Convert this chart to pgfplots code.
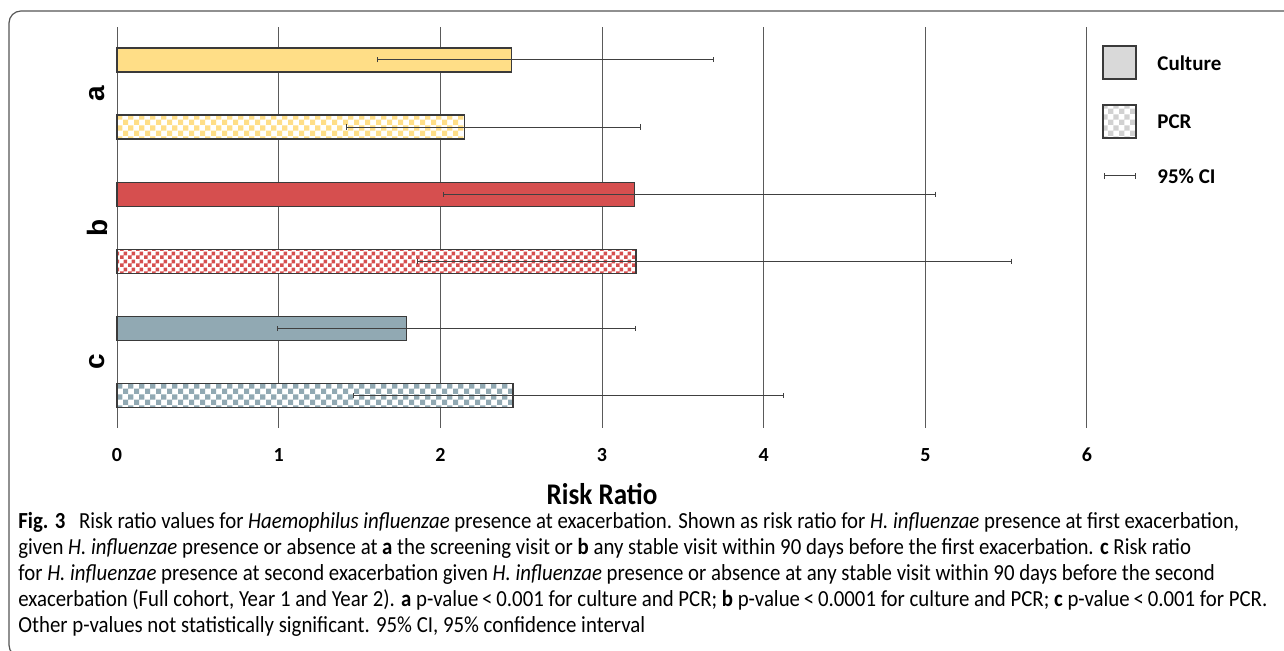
\documentclass[border=0pt]{standalone}
\usepackage{pgfplots}
\pgfplotsset{compat=1.18}
\usepackage{pgfplotstable}
\usetikzlibrary{patterns}
\usepackage{fontspec}
\setmainfont{Carlito}
\newfontfamily\cond{Carlito}[FakeStretch=0.905]
\newfontfamily\arialf{Liberation Sans}

\definecolor{yelc}{HTML}{FFDE87}
\definecolor{redc}{HTML}{D64F4F}
\definecolor{grbc}{HTML}{91A9B3}
\definecolor{edgec}{HTML}{3A3A3A}
\definecolor{gridc}{HTML}{5A5A5A}
\definecolor{errc}{HTML}{404040}
\definecolor{frmc}{HTML}{555555}

\pgfdeclarepatternformonly{checkA}{\pgfqpoint{0pt}{0pt}}{\pgfqpoint{5.6pt}{5.6pt}}{\pgfqpoint{5.6pt}{5.6pt}}{%
  \pgfpathrectangle{\pgfqpoint{0pt}{0pt}}{\pgfqpoint{2.8pt}{2.8pt}}%
  \pgfpathrectangle{\pgfqpoint{2.8pt}{2.8pt}}{\pgfqpoint{2.8pt}{2.8pt}}%
  \pgfusepath{fill}}
\pgfdeclarepatternformonly{checkB}{\pgfqpoint{0pt}{0pt}}{\pgfqpoint{4pt}{4pt}}{\pgfqpoint{4pt}{4pt}}{%
  \pgfpathrectangle{\pgfqpoint{0pt}{0pt}}{\pgfqpoint{2pt}{2pt}}%
  \pgfpathrectangle{\pgfqpoint{2pt}{2pt}}{\pgfqpoint{2pt}{2pt}}%
  \pgfusepath{fill}}

% risk ratio, CI plus, CI minus
\pgfplotstableread{
pos rr ep em
6 2.44 1.25 0.83
}\aCul
\pgfplotstableread{
pos rr ep em
5 2.15 1.09 0.73
}\aPCR
\pgfplotstableread{
pos rr ep em
4 3.20 1.86 1.18
}\bCul
\pgfplotstableread{
pos rr ep em
3 3.21 2.32 1.35
}\bPCR
\pgfplotstableread{
pos rr ep em
2 1.79 1.42 0.80
}\cCul
\pgfplotstableread{
pos rr ep em
1 2.45 1.67 0.99
}\cPCR

\pgfplotsset{
  ci/.style={
    error bars/x dir=both, error bars/x explicit,
    error bars/error mark=|,
    error bars/error bar style={errc, line width=0.5pt},
    error bars/error mark options={errc, line width=0.5pt, mark size=1.3pt},
  },
}

\begin{document}
\begin{tikzpicture}
\begin{axis}[
  at={(58.5pt,111.5pt)}, anchor=south west,
  scale only axis, width=485pt, height=200.5pt,
  xmin=0, xmax=6, ymin=0.52, ymax=6.49,
  axis line style={draw=none}, clip=false,
  xtick={0,1,2,3,4,5,6},
  xmajorgrids, grid style={gridc, line width=0.5pt},
  major tick length=0pt, tick style={draw=none},
  /pgf/number format/assume math mode=true,
  xticklabel style={font=\fontsize{10}{12}\selectfont\bfseries, anchor=center, yshift=-13.5pt},
  ytick={1.5,3.5,5.5}, yticklabels={c,b,a},
  yticklabel style={font=\arialf\fontsize{14}{16}\selectfont\bfseries, rotate=90, anchor=center, yshift=10pt},
  xlabel={Risk Ratio},
  every axis x label/.style={at={(axis description cs:0.5,0)}, anchor=center, yshift=-33pt, font=\cond\fontsize{15}{18}\selectfont\bfseries},
  xbar, bar width=12pt, bar shift=0pt,
]
\addplot[ci, draw=edgec, line width=0.7pt, fill=yelc] table[x=rr, y=pos, x error plus=ep, x error minus=em] {\aCul};
\addplot[ci, draw=edgec, line width=0.7pt, preaction={fill=white}, pattern=checkA, pattern color=yelc] table[x=rr, y=pos, x error plus=ep, x error minus=em] {\aPCR};
\addplot[ci, draw=edgec, line width=0.7pt, fill=redc] table[x=rr, y=pos, x error plus=ep, x error minus=em] {\bCul};
\addplot[ci, draw=edgec, line width=0.7pt, preaction={fill=white}, pattern=checkB, pattern color=redc] table[x=rr, y=pos, x error plus=ep, x error minus=em] {\bPCR};
\addplot[ci, draw=edgec, line width=0.7pt, fill=grbc] table[x=rr, y=pos, x error plus=ep, x error minus=em] {\cCul};
\addplot[ci, draw=edgec, line width=0.7pt, preaction={fill=white}, pattern=checkA, pattern color=grbc] table[x=rr, y=pos, x error plus=ep, x error minus=em] {\cPCR};
\end{axis}

% legend
\draw[edgec, line width=0.7pt, fill=black!15] (551.5pt,286pt) rectangle (568pt,302.5pt);
\draw[edgec, line width=0.7pt, preaction={fill=white}, pattern=checkA, pattern color=black!18] (551.5pt,256.5pt) rectangle (568pt,273pt);
\draw[errc, line width=0.5pt] (552pt,237.5pt) -- (567.5pt,237.5pt);
\draw[errc, line width=0.5pt] (552pt,236.2pt) -- (552pt,238.8pt);
\draw[errc, line width=0.5pt] (567.5pt,236.2pt) -- (567.5pt,238.8pt);
\node[anchor=west, inner sep=0pt, font=\fontsize{10.5}{12}\selectfont\bfseries] at (578.5pt,294pt) {Culture};
\node[anchor=west, inner sep=0pt, font=\fontsize{10.5}{12}\selectfont\bfseries] at (578.5pt,264.5pt) {PCR};
\node[anchor=west, inner sep=0pt, font=\fontsize{10.5}{12}\selectfont\bfseries] at (578.5pt,237.5pt) {95\% CI};

% caption
\begin{scope}[every node/.style={anchor=base west, inner sep=0pt, font=\cond\fontsize{11.5}{13}\selectfont}]
\node at (9pt,61pt) {\textbf{Fig. 3}\hspace{0.6em}Risk ratio values for \textit{Haemophilus influenzae} presence at exacerbation. Shown as risk ratio for \textit{H. influenzae} presence at first exacerbation,};
\node at (9pt,48pt) {given \textit{H. influenzae} presence or absence at \textbf{a} the screening visit or \textbf{b} any stable visit within 90 days before the first exacerbation. \textbf{c} Risk ratio};
\node at (9pt,35pt) {for \textit{H. influenzae} presence at second exacerbation given \textit{H. influenzae} presence or absence at any stable visit within 90 days before the second};
\node at (9pt,22pt) {exacerbation (Full cohort, Year 1 and Year 2). \textbf{a} p-value\,<\,0.001 for culture and PCR; \textbf{b} p-value\,<\,0.0001 for culture and PCR; \textbf{c} p-value\,<\,0.001 for PCR.};
\node at (9pt,9pt) {Other p-values not statistically significant. 95\% CI, 95\% confidence interval};
\end{scope}

% frame
\draw[frmc, line width=0.6pt, rounded corners=6pt] (4.5pt,-3pt) rectangle (700pt,320pt);

\pgfresetboundingbox
\path[use as bounding box] (0pt,0pt) rectangle (642pt,325.5pt);
\end{tikzpicture}
\end{document}
